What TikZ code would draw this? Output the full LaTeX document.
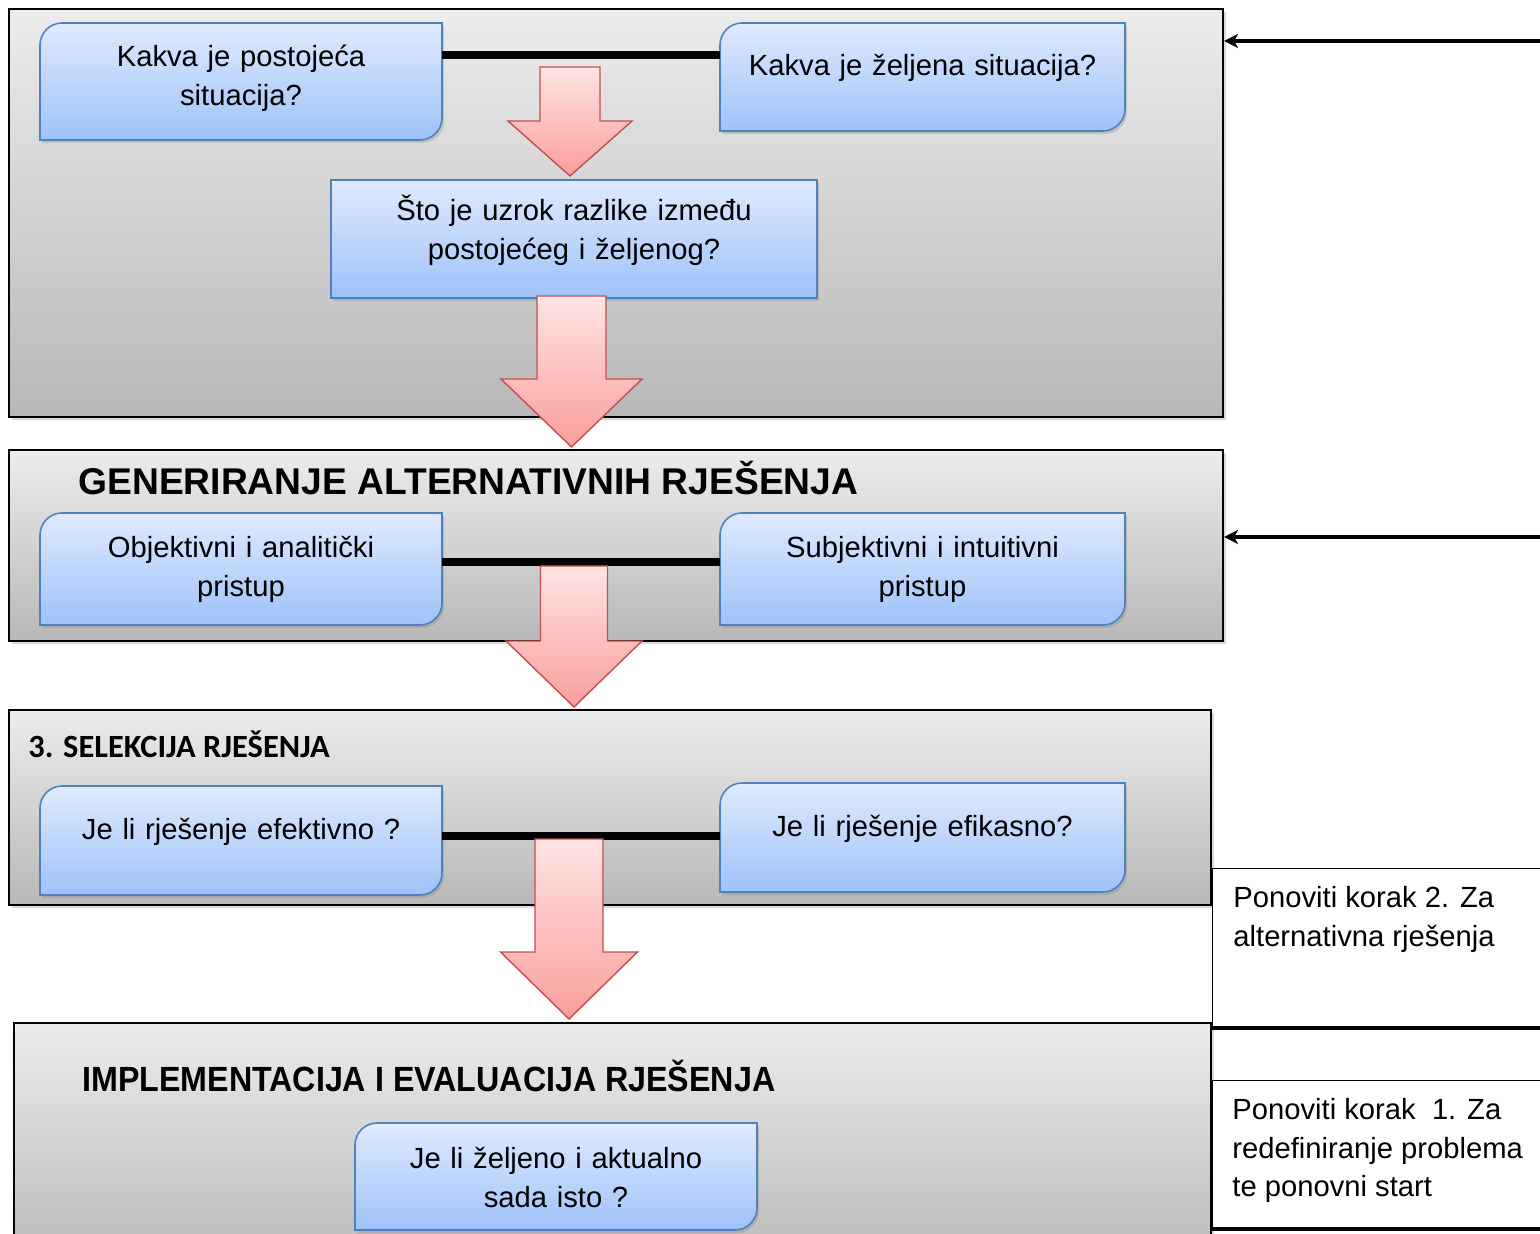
\documentclass[tikz,border=0pt]{standalone}
\usepackage{fontspec}
\setmainfont{Liberation Sans}
\newfontfamily\calibri{Carlito}
\usetikzlibrary{positioning,shadows,arrows.meta}

\definecolor{panelTop}{RGB}{236,236,236}
\definecolor{panelBot}{RGB}{184,184,184}
\definecolor{qTop}{RGB}{223,234,253}
\definecolor{qBot}{RGB}{158,194,250}
\definecolor{qBorder}{RGB}{79,129,189}
\definecolor{pTop}{RGB}{255,228,228}
\definecolor{pBot}{RGB}{250,158,155}
\definecolor{pBorder}{RGB}{192,80,77}

% box with two rounded corners (top left, bottom right)
% [radius]{name}{left}{top}{right}{bottom}{text y}{text}
\newcommand{\qbox}[8][22]{%
  \pgfmathsetmacro{\qw}{(#5-#3)*0.5}
  \path[qshape] (#3,#6) -- (#3,#4+#1)
    .. controls (#3,#4+0.45*#1) and (#3+0.45*#1,#4) .. (#3+#1,#4)
    -- (#5,#4) -- (#5,#6-#1)
    .. controls (#5,#6-0.45*#1) and (#5-0.45*#1,#6) .. (#5-#1,#6) -- cycle;
  \node[qtext, text width=\qw pt] (#2) at ({(#3+#5)/2},#7) {#8};
}
% block arrow pointing down: {x}{top}{shaft half}{neck}{head half}{tip}
\newcommand{\pinkdown}[6]{%
  \path[parrow] (#1-#3,#2) -- (#1+#3,#2) -- (#1+#3,#4) -- (#1+#5,#4)
    -- (#1,#6) -- (#1-#5,#4) -- (#1-#3,#4) -- cycle;
}

\begin{document}
\begin{tikzpicture}[x=0.5pt,y=-0.5pt,
  panel/.style={draw=black, line width=1pt, top color=panelTop, bottom color=panelBot,
    inner sep=0pt, anchor=north west,
    drop shadow={opacity=0.3, shadow xshift=1.5pt, shadow yshift=-1.5pt}},
  qshape/.style={draw=qBorder, line width=0.8pt, top color=qTop, bottom color=qBot,
    drop shadow={opacity=0.3, shadow xshift=1pt, shadow yshift=-1.5pt}},
  qtext/.style={inner sep=0pt, align=center, font=\fontsize{14.6}{19.5}\selectfont},
  heading/.style={anchor=west, inner sep=0pt, font=\bfseries\fontsize{18.6}{22}\selectfont},
  bar/.style={line width=4pt},
  parrow/.style={draw=pBorder, line width=0.7pt, top color=pTop, bottom color=pBot},
  fbarrow/.style={line width=1.6pt, {Stealth[length=7pt,width=7pt,inset=2pt]}-},
  fbline/.style={line width=2.4pt},
  repbox/.style={draw, line width=0.6pt, fill=white, anchor=north west, inner sep=0pt,
    minimum width=180pt},
  reptext/.style={anchor=north west, inner sep=0pt, align=left,
    font=\fontsize{14.6}{19.3}\selectfont}]

  \useasboundingbox (0,0) rectangle (1540,1234);
  \clip (0,0) rectangle (1540,1234);

  % panels
  \node[panel, minimum width=607pt, minimum height=204pt] (p1) at (8,8) {};
  \node[panel, minimum width=607pt, minimum height=95.5pt] (p2) at (8,449) {};
  \node[panel, minimum width=601pt, minimum height=97.5pt] (p3) at (8,709) {};
  \node[panel, minimum width=598.5pt, minimum height=124pt] (p4) at (13,1022) {};

  % 1. problem
  \qbox{postojeca}{40}{23}{442}{140}{78.5}{Kakva je postojeća\\situacija?}
  \qbox{zeljena}{720}{23}{1125}{131}{68}{Kakva je željena situacija?}
  \qbox[0]{uzrok}{331}{180}{817}{298}{230}{Što je uzrok razlike između\\postojećeg i željenog?}
  \coordinate (y1) at (0,55);
  \draw[bar] (postojeca.east |- y1) -- (zeljena.west |- y1);

  % 2. alternative
  \node[heading] (gen) at (78,478) {GENERIRANJE ALTERNATIVNIH RJEŠENJA};
  \qbox{objektivni}{40}{513}{442}{625}{569}{Objektivni i analitički\\pristup}
  \qbox{subjektivni}{720}{513}{1125}{625}{569}{Subjektivni i intuitivni\\pristup}
  \coordinate (y2) at (0,562);
  \draw[bar] (objektivni.east |- y2) -- (subjektivni.west |- y2);

  % 3. selekcija
  \node[heading, font=\calibri\bfseries\fontsize{16.2}{20}\selectfont] (sel) at (28,744) {3. SELEKCIJA RJEŠENJA};
  \qbox{efektivno}{40}{786}{442}{895}{832}{Je li rješenje efektivno ?}
  \qbox{efikasno}{720}{783}{1125}{892}{829}{Je li rješenje efikasno?}
  \coordinate (y3) at (0,836);
  \draw[bar] (efektivno.east |- y3) -- (efikasno.west |- y3);

  % 4. implementacija
  \node[heading, font=\bfseries\fontsize{17.5}{21}\selectfont] (impl) at (82,1076)
    {\scalebox{0.92}[1]{IMPLEMENTACIJA I EVALUACIJA RJEŠENJA}};
  \qbox{isto}{355}{1123}{757}{1230}{1178}{Je li željeno i aktualno\\sada isto ?}

  % block arrows
  \pinkdown{570}{67}{30}{121}{62}{176}
  \pinkdown{571.5}{296}{34.5}{379}{70.5}{447}
  \pinkdown{574}{566}{33.5}{641}{68}{707}
  \pinkdown{569}{839}{34}{952}{68.5}{1019}

  % feedback
  \coordinate (fb1) at (1545,41);
  \coordinate (fb2) at (1545,537);
  \draw[fbarrow] (p1.east |- fb1) -- (fb1);
  \draw[fbarrow] (p2.east |- fb2) -- (fb2);

  \node[repbox, minimum height=80pt] (rep2) at (1212,868) {};
  \node[reptext] (rep2t) at (1233,886) {Ponoviti korak 2. Za\\alternativna rješenja};
  \node[repbox, minimum height=75pt] (rep1) at (1212,1080) {};
  \node[reptext] (rep1t) at (1232,1098) {Ponoviti korak\ \ 1. Za\\redefiniranje problema\\te ponovni start};

  \coordinate (fb3) at (1560,1028);
  \coordinate (fb4) at (1560,1229);
  \draw[fbline] (fb3) -- (p4.east |- fb3);
  \draw[fbline] (fb4) -- (p4.east |- fb4);
\end{tikzpicture}
\end{document}
